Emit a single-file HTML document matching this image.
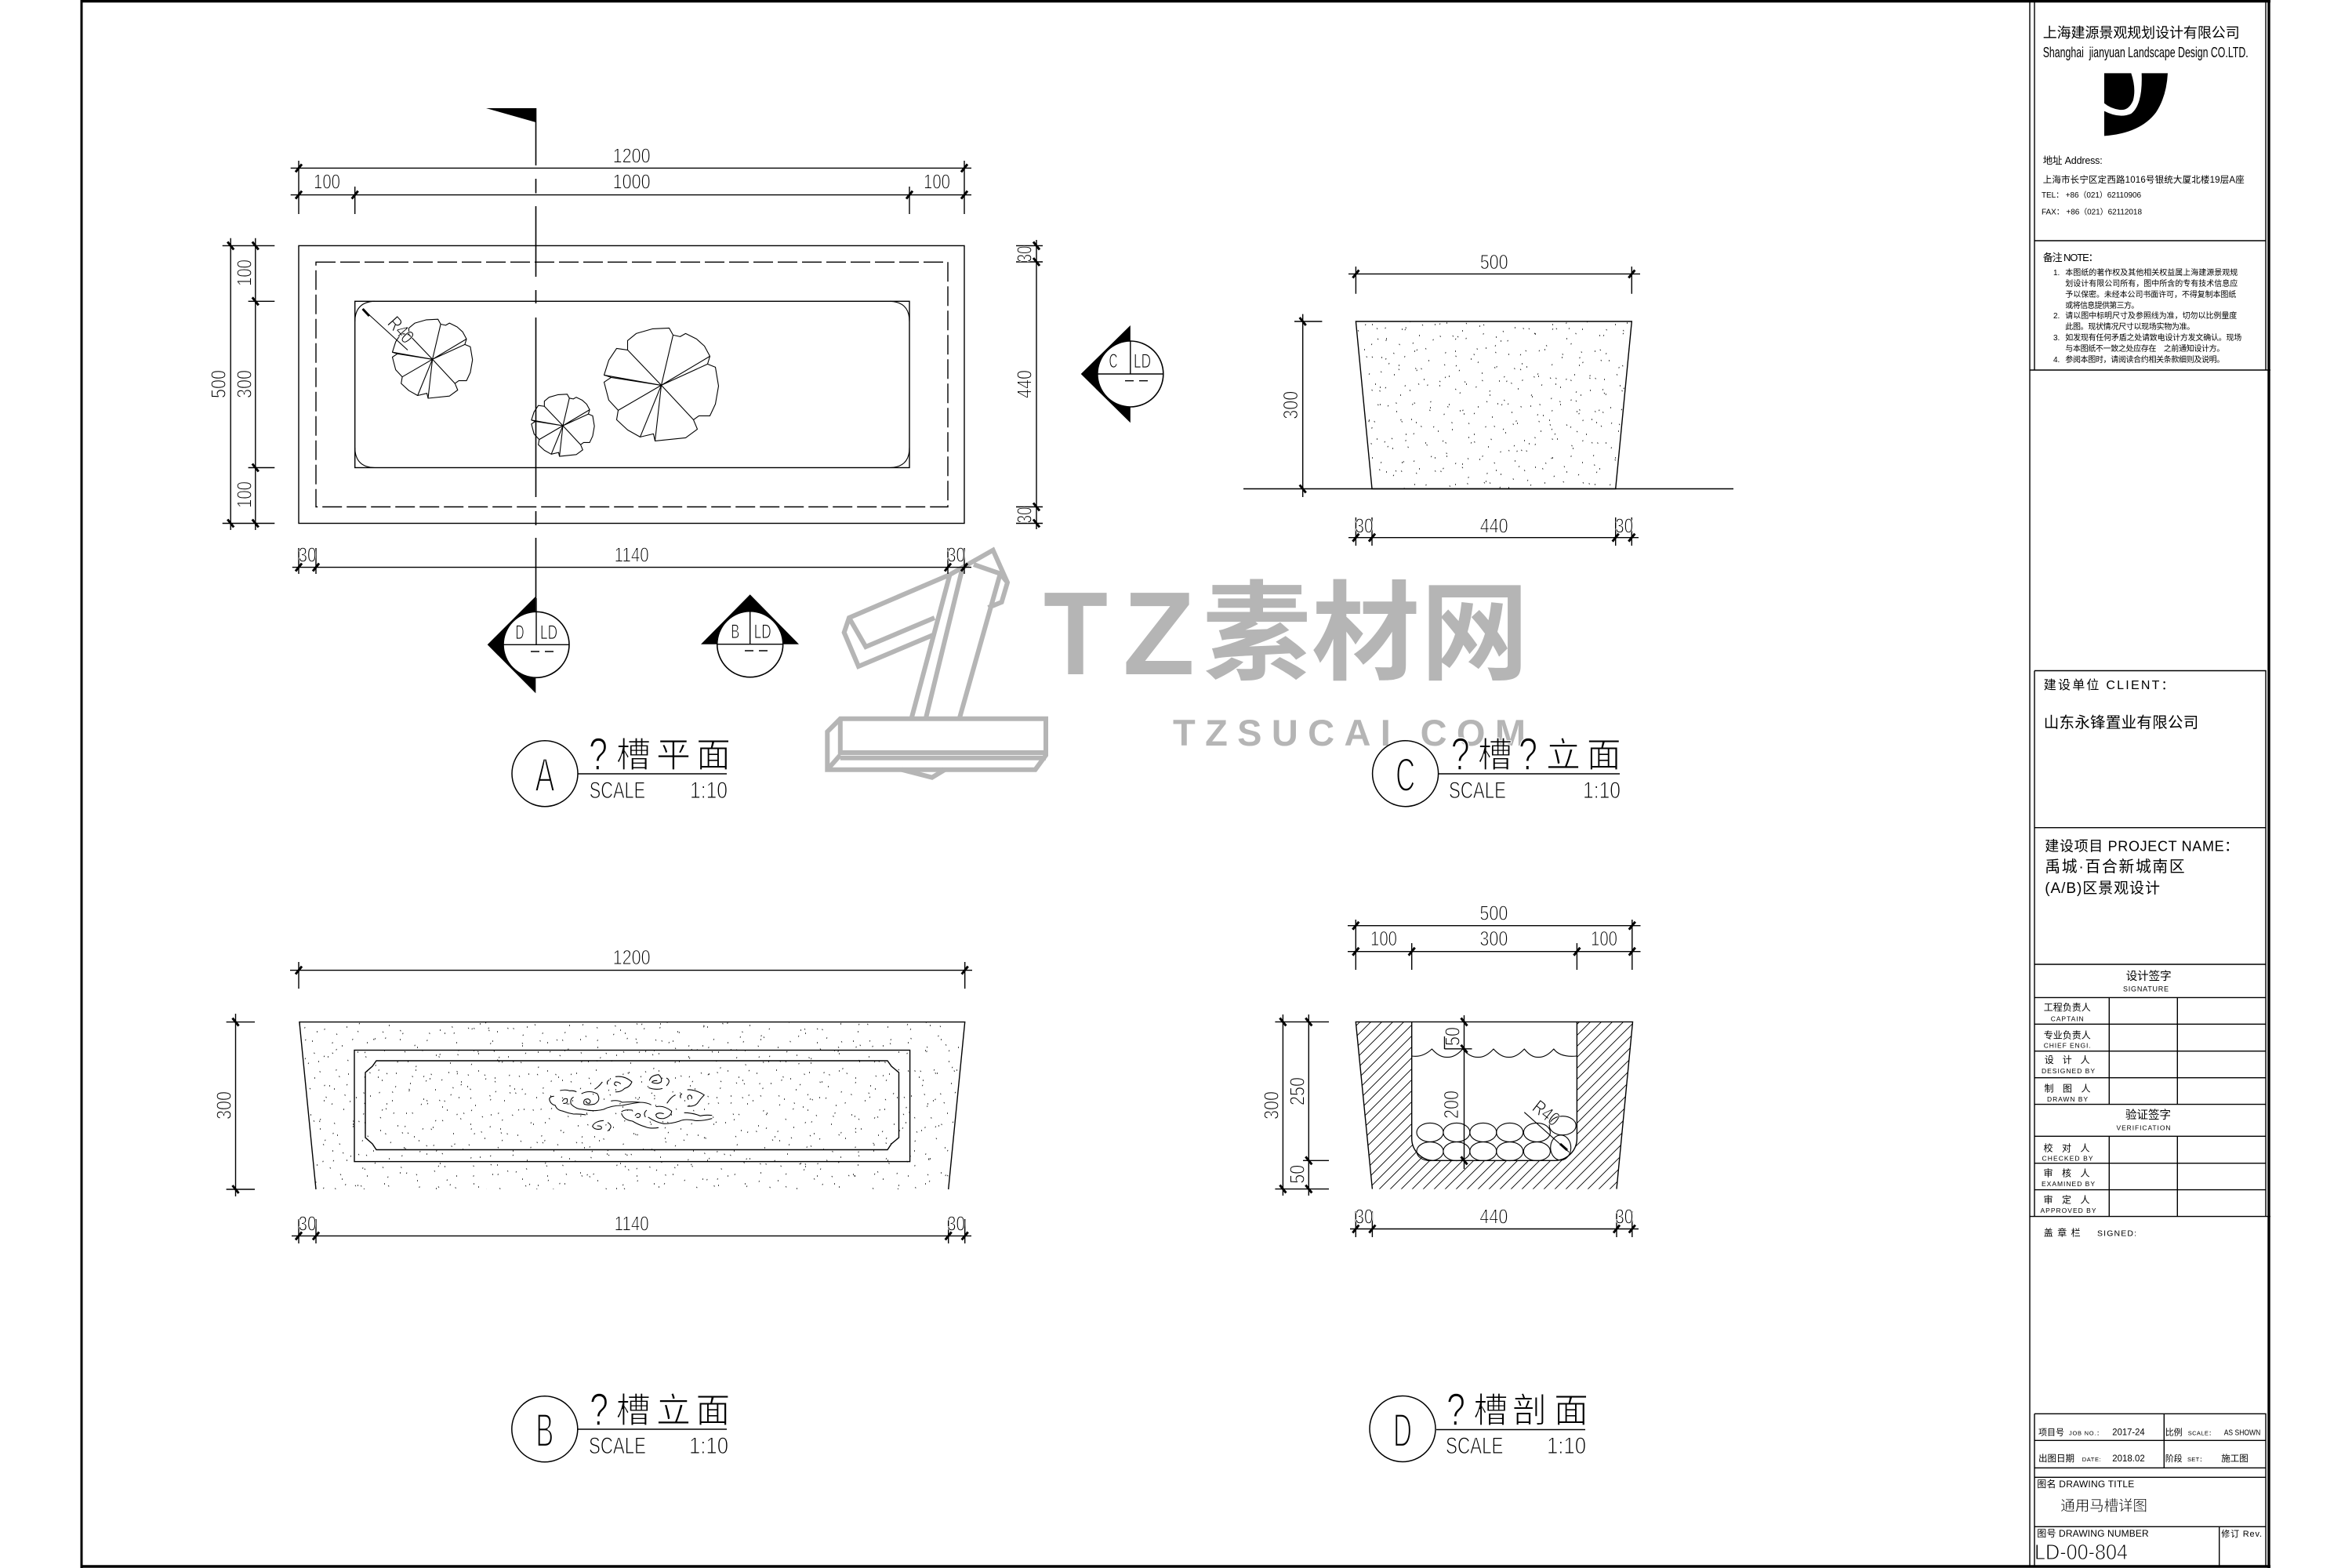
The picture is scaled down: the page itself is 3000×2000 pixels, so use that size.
<!DOCTYPE html>
<html><head><meta charset="utf-8"><title>通用马槽详图</title>
<style>
html,body{margin:0;padding:0;background:#fff}
svg{display:block}
text{font-family:"Liberation Sans","Noto Sans CJK SC",sans-serif;fill:#000}
.d{font-size:26px;text-anchor:middle;stroke:#fff;stroke-width:.9px}
.m{font-size:25px;text-anchor:middle;stroke:#fff;stroke-width:.8px}
.cn{font-size:44px;text-anchor:middle;stroke:#fff;stroke-width:1.1px}
.q{font-size:58px;text-anchor:middle;stroke:#fff;stroke-width:1.5px}
.sc{font-size:30px;stroke:#fff;stroke-width:1px}
.big{font-size:60px;text-anchor:middle;stroke:#fff;stroke-width:2.2px}
.tb{font-size:12px;fill:#111}
.c{text-anchor:middle}
.wm{fill:#b5b5b5;font-weight:bold}
.l{fill:none;stroke:#000;stroke-width:1.4}
.f{fill:none;stroke:#000;stroke-width:1.1;stroke-linejoin:round}
.k{fill:none;stroke:#000;stroke-width:3}
</style></head><body>
<svg xmlns="http://www.w3.org/2000/svg" width="3000" height="2000" viewBox="0 0 3000 2000">
<defs>
<pattern id="st" patternUnits="userSpaceOnUse" width="230" height="170">
<path fill="none" stroke="#111" stroke-width="1.5" d="M8 6h1M22 14h1M27 18h1M45 9h1M63 22h1M70 5h1M88 16h1M95 30h1M112 8h1M128 20h1M136 26h1M150 6h1M171 15h1M190 25h1M196 29h1M214 10h1M12 38h1M33 48h1M40 44h1M58 60h1M80 42h1M104 52h1M110 56h1M125 40h1M146 50h1M166 62h1M183 44h1M208 55h1M224 40h1M5 72h1M25 82h1M47 76h1M68 90h1M74 95h1M92 78h1M118 86h1M140 74h1M158 92h1M178 80h1M200 88h1M220 74h1M16 108h1M36 118h1M55 104h1M84 112h1M101 124h1M107 128h1M130 106h1M152 116h1M174 126h1M194 108h1M212 120h1M8 140h1M30 150h1M50 136h1M72 146h1M96 156h1M122 140h1M144 150h1M150 154h1M168 138h1M188 158h1M206 144h1M226 152h1M60 164h1M114 166h1M176 164h1"/>
</pattern>
<pattern id="st2" href="#st" patternTransform="translate(77 53) rotate(23)"/>
<pattern id="st3" href="#st" patternTransform="translate(31 119) rotate(-31)"/>
<pattern id="hatch" patternUnits="userSpaceOnUse" width="14" height="14">
<path d="M-1 15L15 -1M-1 1L1 -1M13 15L15 13" stroke="#000" stroke-width=".9" fill="none"/>
</pattern>
<g id="leaf">
<path fill="none" stroke="#000" stroke-width="1.1" vector-effect="non-scaling-stroke" stroke-linejoin="round" d="M-43-57L-32-66L-11-72L10-73L15-64L24-62L31-66L45-59L55-50L62-37L59-27L69-23L73 1L69 24L62 39L48 39L41 44L46 56L31 67L-8 71L-10 62L-27 66L-43 57L-57 44L-55 32L-67 19L-73-4L-64-10L-73-13L-67-32L-57-47L-43-45Z"/>
<path fill="none" stroke="#000" stroke-width="1.1" vector-effect="non-scaling-stroke" d="M0 0L15-64M0 0L62-37M0 0L59-27M0 0L-43-45M0 0L-64-10M0 0L-73-13M0 0L-55 32M0 0L-27 66M0 0L-8 71M0 0L41 44"/>
</g>
</defs>
<rect width="3000" height="2000" fill="#fff"/>

<!-- watermark -->
<g fill="none" stroke="#b5b5b5" stroke-width="6" stroke-linejoin="miter">
<path d="M1071.8 916.7H1334V963.3L1320.5 981.7H1055.3V933.3Z"/>
<path d="M1071.8 916.7V960H1334M1071.8 966.7H1334M1055.3 981.7L1071.8 963"/>
<path d="M1162.5 916.7L1211.5 733M1180.8 916.7L1226.8 728M1223.7 916.7L1275.8 731.7"/>
<path d="M1211.5 733L1266.6 701.7L1285 743L1277.6 768L1260.5 775M1242 720L1275.8 731.7L1285 743"/>
<path d="M1211.5 733L1083 788L1076.7 806.7L1095 850L1190 810M1083 788L1104.3 825L1192 788"/>
<path d="M1150.2 981.7L1188.8 991.7L1205.3 981.7"/>
</g>
<text class="wm" x="1331" y="860" font-size="151" textLength="82" lengthAdjust="spacingAndGlyphs">T</text>
<text class="wm" x="1432" y="860" font-size="151" textLength="92" lengthAdjust="spacingAndGlyphs">Z</text>
<text class="wm" x="1534" y="856" font-size="138" textLength="416" lengthAdjust="spacing" style="font-family:'Noto Sans CJK SC',sans-serif">素材网</text>
<text class="wm" x="1496" y="951" font-size="47" textLength="450">TZSUCAI.COM</text>

<!-- sheet frame -->
<path d="M104 0V2000M0 0" stroke="#000" stroke-width="3" fill="none"/>
<path d="M104 1.5H2896M104 1998H2896M2894 0V2000" stroke="#000" stroke-width="3.4" fill="none"/>
<path class="l" d="M2589 0V1998M2595 0V472M2890 0V472M2595 307H2890M2589 472H2896"/>
<path class="l" d="M2595 855.5H2890V1551.6M2595 855.5V1551.6M2595 1055.7H2890M2595 1230H2890M2595 1272.4H2890M2595 1306.3H2890M2595 1340.7H2890M2595 1374.7H2890M2595 1408.6H2890M2595 1449.3H2890M2595 1483.7H2890M2595 1517.6H2890M2589 1551.6H2896"/>
<path class="l" d="M2690.3 1272.4V1408.6M2777.3 1272.4V1408.6M2690.3 1449.3V1551.6M2777.3 1449.3V1551.6"/>
<path class="l" d="M2595 1803.3H2890V1998M2595 1803.3V1998M2595 1837.3H2890M2595 1872.3H2890M2595 1884.3H2890M2595 1947.3H2890M2760.3 1803.3V1872.3M2830.7 1947.3V1998"/>

<!-- title block text -->
<text x="2605.7" y="48" font-size="18" textLength="251" style="font-family:'Noto Sans CJK SC',sans-serif">上海建源景观规划设计有限公司</text>
<text x="2605.7" y="73" font-size="18" textLength="262" lengthAdjust="spacingAndGlyphs">Shanghai&#160;&#160;jianyuan Landscape Design CO.LTD.</text>
<g transform="translate(2590 0) scale(.3333)"><path fill="#000" d="M282 280H385Q405 340 392 385Q375 425 340 420Q305 415 282 395ZM425 280H525Q520 370 480 430Q420 510 282 520V425Q340 455 385 435Q430 400 425 280Z"/></g>
<text x="2605.7" y="209" font-size="12.5" textLength="76">地址 Address:</text>
<text x="2605.7" y="233" font-size="11.5" textLength="257">上海市长宁区定西路1016号银统大厦北楼19层A座</text>
<text x="2604" y="252" font-size="10" textLength="127">TEL： +86（021）62110906</text>
<text x="2604" y="273.5" font-size="10" textLength="128">FAX： +86（021）62112018</text>
<text x="2605.7" y="333" font-size="13" textLength="71">备注 NOTE：</text>
<g class="tb" style="font-size:10px">
<text x="2619" y="351">1.</text><text x="2634.3" y="351" textLength="220" font-size="10">本图纸的著作权及其他相关权益属上海建源景观规</text>
<text x="2634.3" y="365" textLength="220" font-size="10">划设计有限公司所有，图中所含的专有技术信息应</text>
<text x="2634.3" y="379" textLength="218" font-size="10">予以保密。未经本公司书面许可，不得复制本图纸</text>
<text x="2634.3" y="393" textLength="94" font-size="10">或将信息提供第三方。</text>
<text x="2619" y="406">2.</text><text x="2634.3" y="406" textLength="219" font-size="10">请以图中标明尺寸及参照线为准，切勿以比例量度</text>
<text x="2634.3" y="420" textLength="165" font-size="10">此图。现状情况尺寸以现场实物为准。</text>
<text x="2619" y="434">3.</text><text x="2634.3" y="434" textLength="225" font-size="10">如发现有任何矛盾之处请致电设计方发文确认。现场</text>
<text x="2634.3" y="448" textLength="203" font-size="10">与本图纸不一致之处应存在　之前通知设计方。</text>
<text x="2619" y="462">4.</text><text x="2634.3" y="462" textLength="203" font-size="10">参阅本图时，请阅读合约相关条款细则及说明。</text>
</g>
<text x="2606.7" y="879" font-size="16" textLength="166">建设单位 CLIENT：</text>
<text x="2606.7" y="928" font-size="19.5" textLength="197.6">山东永锋置业有限公司</text>
<text x="2608.3" y="1085.5" font-size="18" textLength="247">建设项目 PROJECT NAME：</text>
<text x="2608.3" y="1112" font-size="19.8" textLength="178.4">禹城·百合新城南区</text>
<text x="2608.3" y="1139" font-size="19" textLength="146.7">(A/B)区景观设计</text>
<g font-size="14" text-anchor="middle">
<text x="2740.7" y="1250" font-size="14.5">设计签字</text>
<text x="2737" y="1264.5" font-size="9" textLength="58">SIGNATURE</text>
<text x="2636.7" y="1289" font-size="12">工程负责人</text><text x="2636.7" y="1302.5" font-size="8.5" textLength="42">CAPTAIN</text>
<text x="2636.7" y="1324.5" font-size="12">专业负责人</text><text x="2636.7" y="1336.5" font-size="8.5" textLength="60">CHIEF ENGI.</text>
<text x="2636.7" y="1356" font-size="12" textLength="58">设 计 人</text><text x="2638" y="1369" font-size="8.5" textLength="68">DESIGNED BY</text>
<text x="2637" y="1392.5" font-size="12" textLength="59">制 图 人</text><text x="2637" y="1405" font-size="8.5" textLength="52">DRAWN BY</text>
<text x="2740" y="1427" font-size="14.5">验证签字</text>
<text x="2734" y="1441.5" font-size="8.5" textLength="69">VERIFICATION</text>
<text x="2636" y="1468.5" font-size="12" textLength="59">校 对 人</text><text x="2637" y="1480.5" font-size="8.5" textLength="65">CHECKED BY</text>
<text x="2636" y="1500.5" font-size="12" textLength="59">审 核 人</text><text x="2638" y="1513" font-size="8.5" textLength="68">EXAMINED BY</text>
<text x="2636" y="1534.5" font-size="12" textLength="59">审 定 人</text><text x="2638" y="1547" font-size="8.5" textLength="71">APPROVED BY</text>
</g>
<text x="2606.7" y="1576.5" font-size="12" textLength="47">盖 章 栏</text>
<text x="2675" y="1576.5" font-size="10.5" textLength="50">SIGNED:</text>

<text x="2600" y="1830.5" font-size="11">项目号</text>
<text x="2639" y="1830.5" font-size="7.5" textLength="42.7">JOB NO.：</text>
<text x="2694.3" y="1830.5" font-size="11.5" textLength="41.4" lengthAdjust="spacingAndGlyphs">2017-24</text>
<text x="2761.7" y="1830.5" font-size="11">比例</text>
<text x="2790.7" y="1830.5" font-size="7.5" textLength="34">SCALE：</text>
<text x="2836.7" y="1830.5" font-size="10" textLength="46.6" lengthAdjust="spacingAndGlyphs">AS SHOWN</text>
<text x="2600" y="1864" font-size="11.5">出图日期</text>
<text x="2655.7" y="1864" font-size="7.5" textLength="24">DATE:</text>
<text x="2694.3" y="1864" font-size="11.5" textLength="41.4" lengthAdjust="spacingAndGlyphs">2018.02</text>
<text x="2761.7" y="1864" font-size="11">阶段</text>
<text x="2790" y="1864" font-size="7.5" textLength="23">SET：</text>
<text x="2833.3" y="1864" font-size="11.5">施工图</text>
<text x="2598.3" y="1897" font-size="12" textLength="124">图名 DRAWING TITLE</text>
<text x="2628.3" y="1927" font-size="18.5" textLength="110.7" stroke="#fff" stroke-width=".4">通用马槽详图</text>
<text x="2598.3" y="1960" font-size="12" textLength="142.4">图号 DRAWING NUMBER</text>
<text x="2833.3" y="1960" font-size="11" textLength="51.7">修订 Rev.</text>
<text x="2595" y="1989" font-size="28" textLength="119" lengthAdjust="spacingAndGlyphs" stroke="#fff" stroke-width=".9">LD-00-804</text>

<!-- A plan -->
<path d="M620 138H683.5V156Z" fill="#000"/>
<path d="M683.5 138V211M683.5 228V246.5M683.5 263V353M683.5 370V387M683.5 405V634M683.5 652V670M683.5 686V763" stroke="#000" stroke-width="1.6" fill="none"/>
<rect class="l" x="381" y="313.4" width="849" height="354.1"/>
<rect class="l" x="403" y="334.3" width="806" height="312.2" stroke-dasharray="25 6"/>
<rect class="l" x="452.7" y="384.3" width="707.3" height="212.2"/>
<path class="f" d="M452.7 410Q453 385 478 384.3M1135 384.3Q1160 385 1160 410M452.7 571Q453 596 478 596.5M1135 596.5Q1160 596 1160 571"/>
<use href="#leaf" transform="translate(551.6 458.3) scale(.7)"/>
<use href="#leaf" transform="translate(843.5 491.4)"/>
<use href="#leaf" transform="translate(718 543) scale(.55)"/>
<path class="f" d="M462.6 394L520 446.5"/><path class="k" d="M462.6 394L471 403"/>
<text class="m" transform="translate(511 421) rotate(48)" y="8" textLength="36" lengthAdjust="spacingAndGlyphs">R40</text>

<path class="l" d="M370.7 214.4H1239M370.7 248.6H1239M381 205V273M1230 205V273M452.7 238V273M1160 238V273"/>
<path class="l" d="M294.2 303.7V676M325.8 303.7V676M283.7 313.4H350.3M283.7 667.5H350.3M316.6 384.3H350.3M316.6 596.5H350.3"/>
<path class="l" d="M1322 306V675M1296 313.4H1330M1296 334H1330M1296 646.5H1330M1296 667.5H1330"/>
<path class="l" d="M372.8 723.6H1239M381 699V732M403 699V732M1209 699V732M1230 699V732"/>
<path class="k" d="M377 219.4l8-10M1226 219.4l8-10M377 253.6l8-10M448.7 253.6l8-10M1156 253.6l8-10M1226 253.6l8-10M377 728.6l8-10M399 728.6l8-10M1205 728.6l8-10M1226 728.6l8-10"/>
<path class="k" d="M290.2 308.4l8 10M290.2 662.5l8 10M321.8 308.4l8 10M321.8 379.3l8 10M321.8 591.5l8 10M321.8 662.5l8 10M1318 308.4l8 10M1318 329l8 10M1318 641.5l8 10M1318 662.5l8 10"/>
<text class="d" x="805.6" y="207.5" textLength="48" lengthAdjust="spacingAndGlyphs">1200</text>
<text class="d" x="417" y="240.5" textLength="34" lengthAdjust="spacingAndGlyphs">100</text>
<text class="d" x="805.6" y="240.5" textLength="48" lengthAdjust="spacingAndGlyphs">1000</text>
<text class="d" x="1195" y="240.5" textLength="34" lengthAdjust="spacingAndGlyphs">100</text>
<text class="d" x="392" y="716.5" textLength="23" lengthAdjust="spacingAndGlyphs">30</text>
<text class="d" x="805.6" y="716.5" textLength="44" lengthAdjust="spacingAndGlyphs">1140</text>
<text class="d" x="1219.5" y="716.5" textLength="23" lengthAdjust="spacingAndGlyphs">30</text>
<text class="d" transform="translate(278 490) rotate(-90)" y="9.5" textLength="36" lengthAdjust="spacingAndGlyphs">500</text>
<text class="d" transform="translate(311 490) rotate(-90)" y="9.5" textLength="36" lengthAdjust="spacingAndGlyphs">300</text>
<text class="d" transform="translate(311 348) rotate(-90)" y="9.5" textLength="34" lengthAdjust="spacingAndGlyphs">100</text>
<text class="d" transform="translate(311 631) rotate(-90)" y="9.5" textLength="34" lengthAdjust="spacingAndGlyphs">100</text>
<text class="d" transform="translate(1306 324) rotate(-90)" y="9.5" textLength="21" lengthAdjust="spacingAndGlyphs">30</text>
<text class="d" transform="translate(1306 490) rotate(-90)" y="9.5" textLength="36" lengthAdjust="spacingAndGlyphs">440</text>
<text class="d" transform="translate(1306 657) rotate(-90)" y="9.5" textLength="21" lengthAdjust="spacingAndGlyphs">30</text>

<!-- section markers -->
<path d="M621.7 822.3L683.3 760.7V884.3Z" fill="#000"/>
<circle cx="684" cy="822.3" r="42" fill="#fff" stroke="#000" stroke-width="1.6"/>
<path class="l" d="M642 822.3H726M684 763V822.3M677 831H688M695 831H706"/>
<text class="m" x="663" y="815" textLength="11" lengthAdjust="spacingAndGlyphs">D</text>
<text class="m" x="700" y="815" textLength="22" lengthAdjust="spacingAndGlyphs">LD</text>
<path d="M956.7 758.3L1019 821.7H894Z" fill="#000"/>
<circle cx="956.7" cy="821.7" r="42" fill="#fff" stroke="#000" stroke-width="1.6"/>
<path class="l" d="M914.7 821.7H998.7M956.7 780V821.7M950 830H961M968 830H979"/>
<text class="m" x="937.7" y="814" textLength="11" lengthAdjust="spacingAndGlyphs">B</text>
<text class="m" x="972.7" y="814" textLength="22" lengthAdjust="spacingAndGlyphs">LD</text>
<path d="M1378.7 477L1441.8 415V539.3Z" fill="#000"/>
<circle cx="1441.8" cy="477" r="42" fill="#fff" stroke="#000" stroke-width="1.6"/>
<path class="l" d="M1399.8 477H1483.8M1441.8 435V477M1435 485.7H1446M1453 485.7H1464"/>
<text class="m" x="1420" y="469" textLength="11" lengthAdjust="spacingAndGlyphs">C</text>
<text class="m" x="1457" y="469" textLength="22" lengthAdjust="spacingAndGlyphs">LD</text>

<!-- titles -->
<circle cx="695" cy="986.7" r="42" fill="#fff" stroke="#000" stroke-width="1.5"/>
<text class="big" x="695" y="1009" textLength="25" lengthAdjust="spacingAndGlyphs">A</text>
<path class="l" d="M737 987H927"/>
<text class="q" x="763" y="982" textLength="24" lengthAdjust="spacingAndGlyphs">?</text>
<text class="cn" x="808" y="978">槽</text><text class="cn" x="859" y="978">平</text><text class="cn" x="910" y="978">面</text>
<text class="sc" x="751.7" y="1018" textLength="71.5" lengthAdjust="spacingAndGlyphs">SCALE</text>
<text class="sc" x="880" y="1018" textLength="48" lengthAdjust="spacingAndGlyphs">1:10</text>

<circle cx="1792.6" cy="986.7" r="42" fill="#fff" stroke="#000" stroke-width="1.5"/>
<text class="big" x="1792.6" y="1009" textLength="25" lengthAdjust="spacingAndGlyphs">C</text>
<path class="l" d="M1835 987H2066"/>
<text class="q" x="1862.6" y="982" textLength="24" lengthAdjust="spacingAndGlyphs">?</text>
<text class="cn" x="1907" y="978">槽</text>
<text class="q" x="1949" y="982" textLength="24" lengthAdjust="spacingAndGlyphs">?</text>
<text class="cn" x="1994" y="978">立</text><text class="cn" x="2045.7" y="978">面</text>
<text class="sc" x="1848" y="1018" textLength="73" lengthAdjust="spacingAndGlyphs">SCALE</text>
<text class="sc" x="2019" y="1018" textLength="48" lengthAdjust="spacingAndGlyphs">1:10</text>

<circle cx="694.8" cy="1822.8" r="42" fill="none" stroke="#000" stroke-width="1.5"/>
<text class="big" x="694.8" y="1845" textLength="23" lengthAdjust="spacingAndGlyphs">B</text>
<path class="l" d="M737.5 1823H927"/>
<text class="q" x="764" y="1818" textLength="24" lengthAdjust="spacingAndGlyphs">?</text>
<text class="cn" x="807.7" y="1814">槽</text><text class="cn" x="859" y="1814">立</text><text class="cn" x="909.4" y="1814">面</text>
<text class="sc" x="751" y="1854" textLength="73" lengthAdjust="spacingAndGlyphs">SCALE</text>
<text class="sc" x="879" y="1854" textLength="50" lengthAdjust="spacingAndGlyphs">1:10</text>

<circle cx="1789" cy="1822.5" r="42" fill="none" stroke="#000" stroke-width="1.5"/>
<text class="big" x="1789" y="1845" textLength="24" lengthAdjust="spacingAndGlyphs">D</text>
<path class="l" d="M1832 1823.5H2022"/>
<text class="q" x="1857" y="1818" textLength="24" lengthAdjust="spacingAndGlyphs">?</text>
<text class="cn" x="1901.4" y="1814">槽</text><text class="cn" x="1951" y="1814">剖</text><text class="cn" x="2004" y="1814">面</text>
<text class="sc" x="1844" y="1854" textLength="73.5" lengthAdjust="spacingAndGlyphs">SCALE</text>
<text class="sc" x="1973" y="1854" textLength="50" lengthAdjust="spacingAndGlyphs">1:10</text>

<!-- C elevation -->
<path d="M1729.4 410H2081.3L2060.7 623.5H1750Z" fill="url(#st)"/>
<path d="M1729.4 410H2081.3L2060.7 623.5H1750Z" fill="url(#st2)"/>
<path d="M1729.4 410H2081.3L2060.7 623.5H1750Z" fill="url(#st3)" stroke="#000" stroke-width="1.4"/>
<path class="l" d="M1586 623.5H2211M1720 349.4H2092M1729.4 340V374.7M2081.3 340V374.7M1661.7 400.6V634M1651 410H1686.4M1651 623.5H1686.4M1720 685.7H2090M1729.4 660V696M1750 660V696M2060.7 660V696M2081.3 660V696"/>
<path class="k" d="M1725.4 354.4l8-10M2077.3 354.4l8-10M1657.7 405l8 10M1657.7 618.5l8 10M1725.4 690.7l8-10M1746 690.7l8-10M2056.7 690.7l8-10M2077.3 690.7l8-10"/>
<text class="d" x="1905.7" y="343" textLength="36" lengthAdjust="spacingAndGlyphs">500</text>
<text class="d" x="1905.7" y="679.5" textLength="36" lengthAdjust="spacingAndGlyphs">440</text>
<text class="d" x="1740" y="679.5" textLength="23" lengthAdjust="spacingAndGlyphs">30</text>
<text class="d" x="2071.6" y="679.5" textLength="23" lengthAdjust="spacingAndGlyphs">30</text>
<text class="d" transform="translate(1645.6 516.8) rotate(-90)" y="9.5" textLength="36" lengthAdjust="spacingAndGlyphs">300</text>

<!-- B elevation -->
<path d="M381.9 1303.6H1230.7L1209.7 1517H403Z" fill="url(#st)"/>
<path d="M381.9 1303.6H1230.7L1209.7 1517H403Z" fill="url(#st2)"/>
<path d="M381.9 1303.6H1230.7L1209.7 1517H403Z" fill="url(#st3)"/>
<path class="l" d="M403 1517L381.9 1303.6H1230.7L1209.7 1517"/>
<rect class="l" x="452" y="1339.5" width="708.6" height="142.1"/>
<path class="l" d="M480 1353H1132L1137 1360L1146.5 1368V1451L1137 1459L1132 1466.5H480L475 1459L466 1451V1368L475 1360Z"/>
<g transform="translate(660 1330) scale(.3333)" fill="none" stroke="#000" stroke-width="3.2" stroke-linejoin="round">
<path d="M163 183Q185 178 200 184Q215 182 226 188M122 215Q125 205 140 205M122 215Q125 235 145 240Q150 258 175 262Q195 270 215 273Q240 272 262 276M205 235Q200 215 215 208M172 225Q178 210 190 215Q195 235 175 232M255 235Q250 215 270 215Q285 222 275 232Q262 232 262 222M245 195Q275 180 305 195Q322 220 295 235Q270 240 255 235M205 235Q225 255 250 255Q290 265 330 255Q360 240 400 240Q440 232 470 228Q495 228 512 238M358 223Q385 218 400 228Q440 225 470 228"/>
<path d="M295 178Q310 170 325 150M345 160Q340 148 352 142M375 130Q410 125 438 150Q430 170 410 175Q395 190 375 188M380 165Q365 160 375 150Q390 150 395 158M505 145Q510 125 540 122Q555 135 550 150Q535 160 515 152Q515 145 535 145M570 135Q590 145 570 165M502 172Q530 182 555 175M572 232Q590 205 605 200M625 212Q620 200 630 195M650 180Q680 178 715 200Q700 215 690 230Q680 245 650 243M655 218Q645 205 660 200Q672 208 665 215"/>
<path d="M398 265Q405 255 440 258M398 270Q405 295 440 300Q465 315 490 322Q510 330 540 325M450 280Q460 265 470 275Q470 290 455 285M490 285Q480 270 495 258M500 285Q530 305 560 310Q590 310 620 300Q640 290 680 298Q710 300 745 290M530 245Q560 238 590 262Q590 280 560 290Q530 292 530 275Q540 265 560 272M638 268Q670 268 700 280Q720 275 745 278M330 298Q295 300 287 320Q295 335 320 330Q328 318 305 318M345 305Q370 320 345 338"/>
</g>
<path class="l" d="M370 1237.6H1240M381 1227V1261M1230.7 1227V1261M300.5 1293V1526M288.6 1303.6H325M288.6 1517H325M372 1576.4H1239M381 1555V1586M403 1555V1586M1209.7 1555V1586M1230.7 1555V1586"/>
<path class="k" d="M377 1242.6l8-10M1226.7 1242.6l8-10M296.5 1298.6l8 10M296.5 1512l8 10M377 1581.4l8-10M399 1581.4l8-10M1205.7 1581.4l8-10M1226.7 1581.4l8-10"/>
<text class="d" x="805.6" y="1230" textLength="48" lengthAdjust="spacingAndGlyphs">1200</text>
<text class="d" x="392" y="1569.5" textLength="23" lengthAdjust="spacingAndGlyphs">30</text>
<text class="d" x="805.6" y="1569.5" textLength="44" lengthAdjust="spacingAndGlyphs">1140</text>
<text class="d" x="1219.5" y="1569.5" textLength="23" lengthAdjust="spacingAndGlyphs">30</text>
<text class="d" transform="translate(285 1410) rotate(-90)" y="9.5" textLength="36" lengthAdjust="spacingAndGlyphs">300</text>

<!-- D section -->
<path d="M1729.3 1303.4H1800.7V1452A28.3 28.3 0 0 0 1829 1480.3H1983A28.3 28.3 0 0 0 2011.4 1452V1303.4H2082.5L2062 1516.6H1750.4Z" fill="url(#hatch)" stroke="none"/>
<path class="l" d="M1750.4 1516.6L1729.3 1303.4H2082.5L2062 1516.6M1800.7 1303.4V1452A28.3 28.3 0 0 0 1829 1480.3H1983A28.3 28.3 0 0 0 2011.4 1452V1303.4"/>
<path class="f" d="M1801 1347Q1815 1349 1826.4 1338Q1836 1349 1846 1348.4Q1856 1349 1865.7 1338Q1875 1349 1885.4 1348.4Q1895 1349 1905 1338Q1915 1349 1924.6 1348.4Q1934 1349 1944.3 1338Q1953 1349 1962 1348.4Q1972 1349 1981.8 1338Q1990 1349 2011 1347"/>
<g class="f" style="fill:none">
<ellipse cx="1824" cy="1444.4" rx="17" ry="12"/><ellipse cx="1857.9" cy="1444.4" rx="17" ry="12"/><ellipse cx="1891.8" cy="1444.4" rx="17" ry="12"/><ellipse cx="1925.7" cy="1444.4" rx="17" ry="12"/><ellipse cx="1960.4" cy="1444.4" rx="17" ry="12"/><ellipse cx="1993.2" cy="1435.7" rx="17" ry="12"/>
<ellipse cx="1824" cy="1468.6" rx="17" ry="12"/><ellipse cx="1857.9" cy="1468.6" rx="17" ry="12"/><ellipse cx="1891.8" cy="1468.6" rx="17" ry="12"/><ellipse cx="1925.7" cy="1468.6" rx="17" ry="12"/><ellipse cx="1960.4" cy="1468.6" rx="17" ry="12"/><ellipse cx="1990.7" cy="1463.8" rx="13" ry="16"/>
</g>
<path class="l" d="M1719 1180.7H2092.5M1719 1213.7H2092.5M1729.3 1173V1237M1800.7 1203V1237M2011.4 1203V1237M2081.8 1173V1237"/>
<path class="l" d="M1636.4 1294V1525M1669.3 1294V1525M1626.4 1303.4H1695M1626.4 1516.6H1695M1662 1480.3H1695"/>
<path class="l" d="M1867.5 1295V1491M1842.5 1337.8H1877.5M1842.5 1322V1338"/>
<path class="l" d="M1722 1567.5H2090M1729.3 1545V1578M1750.4 1545V1578M2062 1545V1578M2081.8 1545V1578"/>
<path class="f" d="M1944.3 1418.7L2001.4 1469.6"/><path class="k" d="M1990 1459L1999 1467"/>
<path class="k" d="M1725.3 1185.7l8-10M2077.8 1185.7l8-10M1725.3 1218.7l8-10M1796.7 1218.7l8-10M2007.4 1218.7l8-10M2077.8 1218.7l8-10M1725.3 1572.5l8-10M1746.4 1572.5l8-10M2058 1572.5l8-10M2077.8 1572.5l8-10"/>
<path class="k" d="M1632.4 1298.4l8 10M1632.4 1511.6l8 10M1665.3 1298.4l8 10M1665.3 1475.3l8 10M1665.3 1511.6l8 10M1863.5 1298.4l8 10M1863.5 1332.8l8 10M1863.5 1475.3l8 10"/>
<text class="d" x="1905.4" y="1173.5" textLength="36" lengthAdjust="spacingAndGlyphs">500</text>
<text class="d" x="1765" y="1206" textLength="34" lengthAdjust="spacingAndGlyphs">100</text>
<text class="d" x="1905.4" y="1206" textLength="36" lengthAdjust="spacingAndGlyphs">300</text>
<text class="d" x="2046" y="1206" textLength="34" lengthAdjust="spacingAndGlyphs">100</text>
<text class="d" x="1740" y="1560.5" textLength="23" lengthAdjust="spacingAndGlyphs">30</text>
<text class="d" x="1905.4" y="1560.5" textLength="36" lengthAdjust="spacingAndGlyphs">440</text>
<text class="d" x="2071.8" y="1560.5" textLength="23" lengthAdjust="spacingAndGlyphs">30</text>
<text class="d" transform="translate(1621 1410) rotate(-90)" y="9.5" textLength="36" lengthAdjust="spacingAndGlyphs">300</text>
<text class="d" transform="translate(1654 1392) rotate(-90)" y="9.5" textLength="36" lengthAdjust="spacingAndGlyphs">250</text>
<text class="d" transform="translate(1654 1497.7) rotate(-90)" y="9.5" textLength="24" lengthAdjust="spacingAndGlyphs">50</text>
<text class="d" transform="translate(1852 1322) rotate(-90)" y="9.5" textLength="24" lengthAdjust="spacingAndGlyphs">50</text>
<text class="d" transform="translate(1850.4 1409) rotate(-90)" y="9.5" textLength="36" lengthAdjust="spacingAndGlyphs">200</text>
<text class="m" transform="translate(1972 1420) rotate(38)" y="8" textLength="36" lengthAdjust="spacingAndGlyphs">R40</text>
</svg>
</body></html>
